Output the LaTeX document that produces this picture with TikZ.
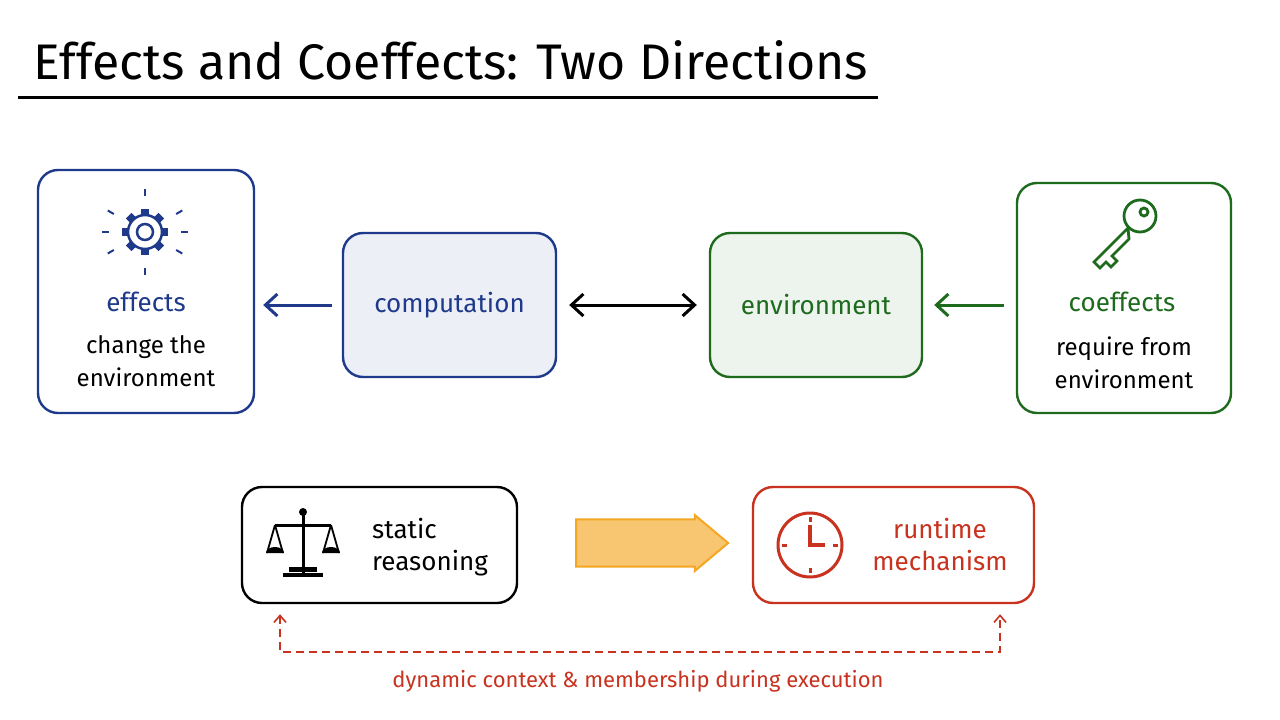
\documentclass[tikz,border=0pt]{standalone}
\usepackage{fontspec}
\setmainfont{Fira Sans}
\usetikzlibrary{arrows.meta,shapes.arrows}
\definecolor{eblue}{HTML}{1F3A8A}
\definecolor{egreen}{HTML}{1E6B1E}
\definecolor{ered}{HTML}{C8321E}
\definecolor{eorange}{HTML}{F5A623}
\begin{document}
\begin{tikzpicture}[x=1pt,y=-1pt,
  box/.style={draw,rounded corners=20pt,line width=2.4pt},
  txt/.style={font=\fontsize{26}{32}\selectfont,align=center},
  >={Straight Barb[length=12pt,width=22pt,line width=3pt]},
  arr/.style={->,line width=3pt}]
\useasboundingbox[fill=white] (0,0) rectangle (1280,720);
\node[anchor=west,font=\fontsize{50}{54}\selectfont] (title) at (30,60) {Effects and Coeffects: Two Directions};
\draw[line width=3pt] (18,97) -- (878,97);
% effects
\node[box,draw=eblue,minimum width=216pt,minimum height=243pt] (eff) at (146,291.5) {};
\node[txt,text=eblue] (efft) at (146,302) {effects};
\node[txt,font=\fontsize{24}{33}\selectfont] (efft2) at (146,361) {change the\\environment};
\begin{scope}[shift={(145,232)}]
 \foreach \a in {0,45,...,315} \draw[eblue,line width=8pt] (\a:15) -- (\a:23);
 \fill[white] (0,0) circle (17);
 \draw[eblue,line width=2.5pt] (0,0) circle (17);
 \draw[eblue,line width=2.5pt] (0,0) circle (8);
 \foreach \a in {0,30,150,180,210,330,90,270} \draw[eblue,line width=2pt] (\a:36) -- (\a:43);
\end{scope}
% computation
\node[box,draw=eblue,fill=eblue!8,minimum width=213pt,minimum height=144pt,text=eblue,txt] (comp) at (449.5,305) {computation};
\draw[arr,eblue] ([xshift=-10pt]comp.west) -- ([xshift=8pt]eff.east|-comp.west);
% environment
\node[box,draw=egreen,fill=egreen!8,minimum width=212pt,minimum height=144pt,text=egreen,txt] (env) at (816,305) {environment};
\draw[<->,line width=3pt] ([xshift=12pt]comp.east) -- ([xshift=-12pt]env.west);
% coeffects
\node[box,draw=egreen,minimum width=214pt,minimum height=230pt] (coe) at (1124,298) {};
\node[txt,text=egreen] (coet) at (1122,302) {coeffects};
\node[txt,font=\fontsize{24}{33}\selectfont] (coet2) at (1124,363) {require from\\environment};
\draw[arr,egreen] ([xshift=-12pt]coe.west|-env.east) -- ([xshift=11pt]env.east);
\begin{scope}[shift={(1122,230)},egreen,line width=2.8pt]
 \draw (18,-14) circle (16);
 \draw (22,-18) circle (4);
 \draw (6,-2) -- (-28,32) -- (-22,38) -- (-16,32) -- (-11,37) -- (-5,31) -- (-10,26) -- (7,9) -- (6,-2);
\end{scope}
% static reasoning
\node[box,minimum width=275pt,minimum height=116pt] (stat) at (379.5,545) {};
\node[txt,align=left] (statt) at (430,547) {static\\reasoning};
\begin{scope}[shift={(303,545)},line width=3pt]
 \draw (0,-32) -- (0,28); \draw[line width=5pt] (-14,24) -- (14,24); \draw[line width=4pt] (-20,30)--(20,30);
 \draw (-28,-20) -- (28,-20); \fill (0,-33) circle (4);
 \draw[line width=1.8pt] (-28,-20) -- (-36,8) (-28,-20) -- (-20,8) (28,-20) -- (20,8) (28,-20) -- (36,8);
 \fill (-37,8) arc (180:360:9 and 6) -- cycle; \fill (19,8) arc (180:360:9 and 6) -- cycle;
\end{scope}
% runtime
\node[box,draw=ered,minimum width=281pt,minimum height=116pt] (run) at (893.5,545) {};
\node[txt,text=ered] (runt) at (940,545) {runtime\\mechanism};
\begin{scope}[shift={(810,545)},ered,line width=3pt]
 \draw (0,0) circle (32);
 \draw[line width=3.5pt] (0,-20) -- (0,0) -- (15,0);
 \foreach \a in {0,90,180,270} \draw (\a:23) -- (\a:28);
\end{scope}
% big arrow
\node[single arrow,draw=eorange,fill=eorange!65,line width=2pt,minimum height=152pt,minimum width=56pt,single arrow head extend=2pt,single arrow tip angle=80,inner sep=10pt] (big) at (638,543) {};
% dashed
\coordinate (d1) at (280,652); \coordinate (d2) at (1000,652);
\draw[ered,dash pattern=on 8pt off 5pt,line width=1.6pt,{Straight Barb[length=7pt,width=12pt]}-{Straight Barb[length=7pt,width=12pt]}] ([yshift=-10pt]stat.south-|d1) -- (d1) -- (d2) -- ([yshift=-10pt]run.south-|d2);
\node[text=ered,font=\fontsize{22}{26}\selectfont] (lab) at (638,681) {dynamic context \& membership during execution};
\end{tikzpicture}
\end{document}
